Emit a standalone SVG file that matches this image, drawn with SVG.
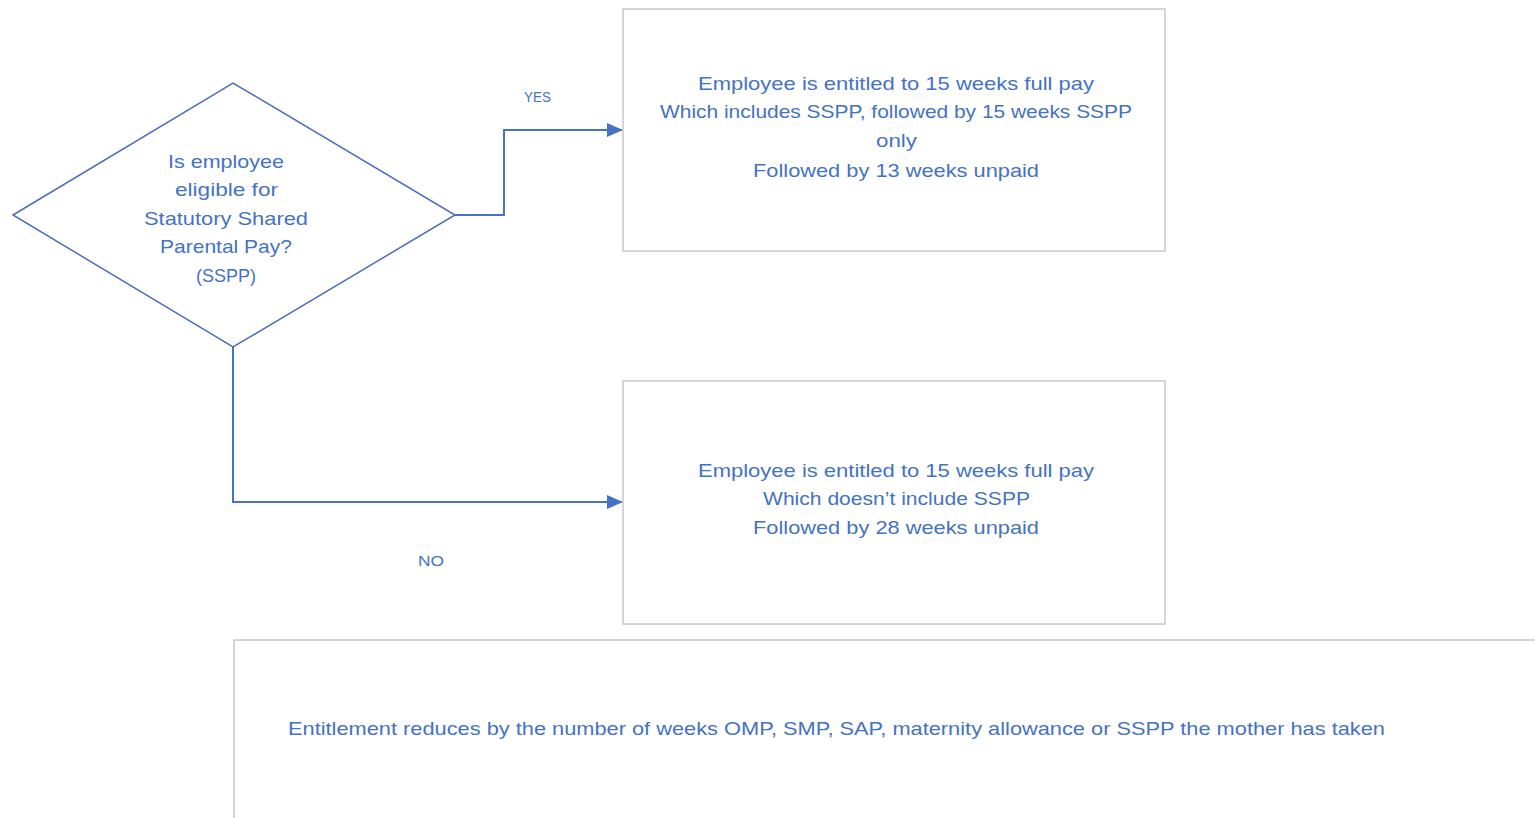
<svg xmlns="http://www.w3.org/2000/svg" width="1535" height="818" viewBox="0 0 1535 818">
<style>
text{font-family:"Liberation Sans",Arial,sans-serif;fill:#4472C4;text-anchor:middle;dominant-baseline:central}
.t{font-size:19px}
.s{font-size:15px}
.box{fill:#fff;stroke:#C8C8C8;stroke-width:1.5}
.dia{fill:#fff;stroke:#4A6FB8;stroke-width:1.5}
.con{fill:none;stroke:#4472C4;stroke-width:2}
</style>
<defs>
<marker id="arr" viewBox="0 0 16 14" refX="15" refY="7" markerWidth="16" markerHeight="14" orient="auto" markerUnits="userSpaceOnUse">
<path d="M0,0 L16,7 L0,14 z" fill="#4472C4"/>
</marker>
</defs>
<rect width="1535" height="818" fill="#fff"/>
<g id="connectors">
<polyline class="con" points="455,215 504,215 504,130 622,130" marker-end="url(#arr)"/>
<polyline class="con" points="233,347 233,502 622,502" marker-end="url(#arr)"/>
<text class="s" x="537.5" y="96" textLength="27" lengthAdjust="spacingAndGlyphs">YES</text>
<text class="s" x="431" y="560" textLength="26" lengthAdjust="spacingAndGlyphs">NO</text>
</g>
<g id="decision">
<polygon class="dia" points="13,215 233,83 455,215 233,347"/>
<text class="t" x="226" y="161" textLength="116" lengthAdjust="spacingAndGlyphs">Is employee</text>
<text class="t" x="226.5" y="189" textLength="103" lengthAdjust="spacingAndGlyphs">eligible for</text>
<text class="t" x="226" y="218" textLength="164" lengthAdjust="spacingAndGlyphs">Statutory Shared</text>
<text class="t" x="226" y="246" textLength="132" lengthAdjust="spacingAndGlyphs">Parental Pay?</text>
<text class="t" x="226" y="275" textLength="60" lengthAdjust="spacingAndGlyphs">(SSPP)</text>
</g>
<g id="yes-box">
<rect class="box" x="623" y="9" width="542" height="242"/>
<text class="t" x="896" y="83" textLength="396" lengthAdjust="spacingAndGlyphs">Employee is entitled to 15 weeks full pay</text>
<text class="t" x="896" y="111" textLength="472" lengthAdjust="spacingAndGlyphs">Which includes SSPP, followed by 15 weeks SSPP</text>
<text class="t" x="896.5" y="140" textLength="41" lengthAdjust="spacingAndGlyphs">only</text>
<text class="t" x="896" y="170" textLength="286" lengthAdjust="spacingAndGlyphs">Followed by 13 weeks unpaid</text>
</g>
<g id="no-box">
<rect class="box" x="623" y="381" width="542" height="243"/>
<text class="t" x="896" y="470" textLength="396" lengthAdjust="spacingAndGlyphs">Employee is entitled to 15 weeks full pay</text>
<text class="t" x="896.5" y="498" textLength="267" lengthAdjust="spacingAndGlyphs">Which doesn’t include SSPP</text>
<text class="t" x="896" y="527" textLength="286" lengthAdjust="spacingAndGlyphs">Followed by 28 weeks unpaid</text>
</g>
<g id="note">
<rect class="box" x="234" y="640" width="1320" height="200"/>
<text class="t" x="836.5" y="728" textLength="1097" lengthAdjust="spacingAndGlyphs">Entitlement reduces by the number of weeks OMP, SMP, SAP, maternity allowance or SSPP the mother has taken</text>
</g>
</svg>
